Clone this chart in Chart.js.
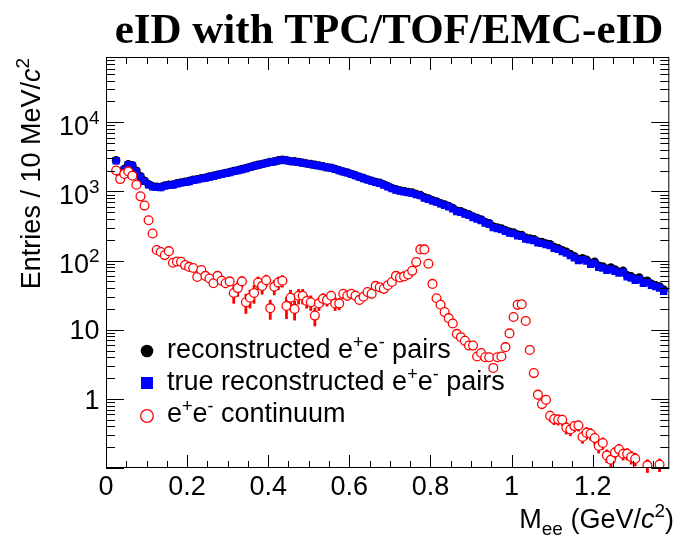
<!DOCTYPE html>
<html>
<head>
<meta charset="utf-8">
<script src="https://cdn.jsdelivr.net/npm/chart.js@4.4.1/dist/chart.umd.min.js"></script>
<style>
  body { margin: 0; background: #fff; }
  canvas { display: block; }
</style>
</head>
<body>
<canvas id="c" width="675" height="540"></canvas>
<script>
// bin centres in GeV/c^2 (10 MeV bins)
const massBins = [
  0.025, 0.035, 0.045, 0.055, 0.065, 0.075, 0.085, 0.095, 0.105, 0.115,
  0.125, 0.135, 0.145, 0.155, 0.165, 0.175, 0.185, 0.195, 0.205, 0.215,
  0.225, 0.235, 0.245, 0.255, 0.265, 0.275, 0.285, 0.295, 0.305, 0.315,
  0.325, 0.335, 0.345, 0.355, 0.365, 0.375, 0.385, 0.395, 0.405, 0.415,
  0.425, 0.435, 0.445, 0.455, 0.465, 0.475, 0.485, 0.495, 0.505, 0.515,
  0.525, 0.535, 0.545, 0.555, 0.565, 0.575, 0.585, 0.595, 0.605, 0.615,
  0.625, 0.635, 0.645, 0.655, 0.665, 0.675, 0.685, 0.695, 0.705, 0.715,
  0.725, 0.735, 0.745, 0.755, 0.765, 0.775, 0.785, 0.795, 0.805, 0.815,
  0.825, 0.835, 0.845, 0.855, 0.865, 0.875, 0.885, 0.895, 0.905, 0.915,
  0.925, 0.935, 0.945, 0.955, 0.965, 0.975, 0.985, 0.995, 1.005, 1.015,
  1.025, 1.035, 1.045, 1.055, 1.065, 1.075, 1.085, 1.095, 1.105, 1.115,
  1.125, 1.135, 1.145, 1.155, 1.165, 1.175, 1.185, 1.195, 1.205, 1.215,
  1.225, 1.235, 1.245, 1.255, 1.265, 1.275, 1.285, 1.295, 1.305, 1.315,
  1.325, 1.335, 1.345, 1.355, 1.365, 1.375
];

// reconstructed e+e- pairs (black, mostly hidden under the blue squares)
const recoPairs = [
  2830, 1790, 2100, 2470, 2390, 1990, 1650, 1430, 1270, 1190,
  1170, 1160, 1220, 1250, 1260, 1310, 1350, 1380, 1410, 1470,
  1500, 1550, 1580, 1640, 1680, 1740, 1790, 1850, 1900, 1970,
  2030, 2100, 2170, 2260, 2340, 2420, 2500, 2580, 2660, 2720,
  2810, 2880, 2820, 2740, 2720, 2660, 2600, 2540, 2480, 2420,
  2370, 2310, 2240, 2200, 2110, 2020, 1940, 1880, 1790, 1710,
  1630, 1560, 1490, 1430, 1370, 1330, 1260, 1190, 1120, 1070,
  1030, 1010, 980, 960, 920, 890, 820, 790, 745, 715,
  675, 645, 615, 575, 525, 515, 485, 462, 432, 412,
  392, 362, 346, 311, 300, 290, 275, 260, 254, 237,
  234, 213, 208, 203, 188, 185, 177, 172, 157, 151,
  141, 134, 124, 115, 105, 108, 103, 92, 96, 84,
  82, 76, 79, 74, 69, 71, 61, 59, 55, 57,
  50, 51, 46, 44, 42, 38
];

// true reconstructed e+e- pairs (blue squares)
const truePairs = [
  2780, 1750, 2060, 2430, 2350, 1950, 1620, 1400, 1250, 1170,
  1150, 1140, 1200, 1230, 1240, 1290, 1330, 1360, 1390, 1450,
  1480, 1530, 1560, 1620, 1660, 1720, 1770, 1830, 1880, 1950,
  2010, 2080, 2150, 2240, 2320, 2400, 2480, 2560, 2640, 2700,
  2790, 2860, 2800, 2720, 2700, 2640, 2580, 2520, 2460, 2400,
  2350, 2290, 2220, 2180, 2090, 2000, 1920, 1860, 1770, 1690,
  1610, 1540, 1470, 1410, 1350, 1310, 1240, 1170, 1100, 1050,
  1010, 990, 960, 940, 900, 870, 800, 770, 730, 700,
  660, 630, 600, 560, 510, 500, 470, 450, 420, 400,
  380, 350, 335, 300, 290, 280, 265, 250, 245, 228,
  225, 205, 200, 195, 180, 178, 170, 165, 150, 145,
  135, 128, 118, 110, 100, 103, 98, 88, 92, 80,
  78, 72, 75, 70, 66, 68, 58, 56, 52, 54,
  47, 48, 44, 42, 40, 36
];

// e+e- continuum (red open circles); null = empty bin
const continuum = [
  2010, 1510, 1790, 1950, 1690, 1250, 850, 624, 383, 246,
  142, 133, 120, 137, 93, 97, 96, 86, 81, 78,
  58, 73, 60, 55, 47, 60, 51, 47, 50, 34,
  40, 50, 25, 29, 34, 48, 43, 52, 20.5, 42,
  48, 51, 22, 29, 20, 31, 31, 26, 25, 16,
  24, 28, 27, 31, 24, 24, 33, 31, 33, 31,
  27, 30, 35, 33, 43, 41, 39, 44, 49, 60,
  57, 59, 63, 71, 95, 145, 145, 90, 46, 28.5,
  23, 18, 14.7, 12.3, 8.7, 7.8, 6.9, 5.9, 5.9, 4.1,
  4.6, 4.0, 4.0, 2.8, 4.0, 4.1, 5.6, 8.85, 15.3, 22.9,
  23.4, 13.4, 5.1, 2.36, 1.15, 0.84, 0.97, 0.57, 0.51, 0.503,
  0.498, 0.382, 0.361, 0.404, 0.412, 0.281, 0.324, 0.313, 0.272, 0.208,
  0.23, 0.152, 0.132, 0.167, 0.186, 0.161, 0.161, 0.144, 0.136, null,
  null, 0.109, null, null, 0.112, null
];

// relative error of each continuum bin
const continuumRelErr = [
  0.02, 0.02, 0.02, 0.02, 0.02, 0.02, 0.03, 0.03, 0.04, 0.05,
  0.06, 0.06, 0.07, 0.06, 0.08, 0.08, 0.08, 0.09, 0.09, 0.10,
  0.12, 0.10, 0.12, 0.12, 0.14, 0.12, 0.14, 0.15, 0.14, 0.30,
  0.25, 0.18, 0.32, 0.30, 0.30, 0.22, 0.25, 0.20, 0.32, 0.25,
  0.22, 0.20, 0.35, 0.30, 0.32, 0.25, 0.25, 0.22, 0.25, 0.30,
  0.22, 0.20, 0.20, 0.18, 0.22, 0.20, 0.16, 0.15, 0.15, 0.15,
  0.15, 0.14, 0.12, 0.12, 0.10, 0.10, 0.10, 0.10, 0.08, 0.08,
  0.08, 0.08, 0.07, 0.06, 0.05, 0.04, 0.04, 0.05, 0.06, 0.07,
  0.07, 0.07, 0.08, 0.08, 0.08, 0.08, 0.08, 0.08, 0.08, 0.09,
  0.08, 0.09, 0.09, 0.10, 0.09, 0.09, 0.08, 0.07, 0.06, 0.05,
  0.05, 0.06, 0.08, 0.12, 0.15, 0.15, 0.15, 0.18, 0.18, 0.18,
  0.18, 0.20, 0.20, 0.18, 0.18, 0.20, 0.20, 0.20, 0.20, 0.22,
  0.20, 0.22, 0.22, 0.20, 0.20, 0.20, 0.20, 0.22, 0.22, 0,
  0, 0.22, 0, 0, 0.22, 0
];

const xTicks = [0, 0.2, 0.4, 0.6, 0.8, 1, 1.2];
const xTickLabels = ['0', '0.2', '0.4', '0.6', '0.8', '1', '1.2'];
const yDecades = [1, 10, 100, 1000, 10000];
const yTickBase = ['1', '10', '10', '10', '10'];
const yTickExp = ['', '', '2', '3', '4'];

const SANS = '"Liberation Sans", Arial, Helvetica, sans-serif';

function segFont(sg) {
  return (sg.it ? 'italic ' : '') + sg.s + 'px ' + SANS;
}

// draw a run of text pieces (for sub/superscripts)
function drawRich(ctx, segs, x, y, align) {
  let w = 0;
  segs.forEach(sg => { ctx.font = segFont(sg); sg.w = ctx.measureText(sg.t).width; w += sg.w; });
  let cx = align === 'right' ? x - w : (align === 'center' ? x - w / 2 : x);
  ctx.textAlign = 'left';
  ctx.textBaseline = 'alphabetic';
  segs.forEach(sg => {
    ctx.font = segFont(sg);
    ctx.fillText(sg.t, cx, y + (sg.dy || 0));
    cx += sg.w;
  });
}

const rootFrame = {
  id: 'rootFrame',
  beforeDatasetsDraw(chart) {
    const ctx = chart.ctx, xs = chart.scales.x, ys = chart.scales.y;
    ctx.save();
    ctx.strokeStyle = '#ff0000';
    ctx.lineWidth = 2.8;
    continuum.forEach((v, i) => {
      const e = continuumRelErr[i];
      if (v == null || !e) return;
      const px = xs.getPixelForValue(massBins[i]);
      const yHi = ys.getPixelForValue(v * (1 + e));
      const yLo = ys.getPixelForValue(v * (1 - e));
      ctx.beginPath();
      ctx.moveTo(px, yHi);
      ctx.lineTo(px, yLo);
      ctx.stroke();
    });
    ctx.restore();
  },
  afterDraw(chart) {
    const ctx = chart.ctx, xs = chart.scales.x, ys = chart.scales.y;
    const a = chart.chartArea;
    ctx.save();
    ctx.strokeStyle = '#000';
    ctx.fillStyle = '#000';
    ctx.lineWidth = 1;

    // frame
    ctx.strokeRect(a.left + 0.5, a.top + 0.5, a.right - a.left - 1, a.bottom - a.top - 1);

    // x ticks (inside, bottom and top)
    ctx.beginPath();
    for (let k = 0; k <= 27; k++) {
      const v = k * 0.05;
      const px = Math.round(xs.getPixelForValue(v)) + 0.5;
      const len = (k % 4 === 0) ? 13 : 7;
      ctx.moveTo(px, a.bottom);
      ctx.lineTo(px, a.bottom - len);
      ctx.moveTo(px, a.top);
      ctx.lineTo(px, a.top + len);
    }
    // y ticks (log, inside, left and right)
    for (let dec = 0.1; dec < 1e5; dec *= 10) {
      for (let m = 1; m <= 9; m++) {
        const v = dec * m;
        if (v < ys.min * 0.999 || v > ys.max) continue;
        const py = Math.round(ys.getPixelForValue(v)) + 0.5;
        const len = m === 1 ? 18 : 9;
        ctx.moveTo(a.left, py);
        ctx.lineTo(a.left + len, py);
        ctx.moveTo(a.right, py);
        ctx.lineTo(a.right - len, py);
      }
    }
    ctx.stroke();

    // x tick labels
    ctx.font = '27px ' + SANS;
    ctx.textAlign = 'center';
    ctx.textBaseline = 'alphabetic';
    xTicks.forEach((v, i) => {
      ctx.fillText(xTickLabels[i], xs.getPixelForValue(v), 494.5);
    });

    // y tick labels
    yDecades.forEach((v, i) => {
      const py = ys.getPixelForValue(v);
      if (yTickExp[i]) {
        drawRich(ctx, [{ t: yTickBase[i], s: 27 }, { t: yTickExp[i], s: 19, dy: -11 }], 99.5, py + 12.5, 'right');
      } else {
        drawRich(ctx, [{ t: yTickBase[i], s: 27 }], 99.5, py + 9.7, 'right');
      }
    });

    // axis titles
    drawRich(ctx, [
      { t: 'M', s: 27 }, { t: 'ee', s: 19, dy: 7 }, { t: ' (GeV/', s: 27 },
      { t: 'c', s: 27, it: true }, { t: '2', s: 19, dy: -11 }, { t: ')', s: 27 }
    ], 674, 528, 'right');

    ctx.save();
    ctx.translate(40, 58);
    ctx.rotate(-Math.PI / 2);
    drawRich(ctx, [
      { t: 'Entries / 10 MeV/', s: 27 }, { t: 'c', s: 27, it: true }, { t: '2', s: 19, dy: -11 }
    ], 0, 0, 'right');
    ctx.restore();

    // title
    ctx.font = 'bold 43px "Liberation Serif", "Times New Roman", serif';
    ctx.textAlign = 'center';
    ctx.fillText('eID with TPC/TOF/EMC-eID', 389, 43);

    // legend
    const lx = 147, tx = 167;
    const rows = [358, 390, 422];
    ctx.fillStyle = '#000';
    ctx.beginPath();
    ctx.arc(lx, rows[0] - 7, 6.3, 0, Math.PI * 2);
    ctx.fill();
    ctx.fillStyle = '#0000ff';
    ctx.fillRect(lx - 6, rows[1] - 13, 12, 12);
    ctx.strokeStyle = '#ff0000';
    ctx.lineWidth = 1.3;
    ctx.beginPath();
    ctx.arc(lx, rows[2] - 6, 6.3, 0, Math.PI * 2);
    ctx.stroke();

    ctx.fillStyle = '#000';
    const ee = () => [{ t: 'e', s: 27 }, { t: '+', s: 18, dy: -10 }, { t: 'e', s: 27 }, { t: '-', s: 18, dy: -10 }];
    drawRich(ctx, [{ t: 'reconstructed ', s: 27 }].concat(ee(), [{ t: ' pairs', s: 27 }]), tx, rows[0], 'left');
    drawRich(ctx, [{ t: 'true reconstructed ', s: 27 }].concat(ee(), [{ t: ' pairs', s: 27 }]), tx, rows[1], 'left');
    drawRich(ctx, ee().concat([{ t: ' continuum', s: 27 }]), tx, rows[2], 'left');

    ctx.restore();
  }
};

const toXY = (vals) => vals.map((v, i) => ({ x: massBins[i], y: v }));

new Chart(document.getElementById('c'), {
  type: 'scatter',
  data: {
    datasets: [
      {
        label: 'e+e- continuum',
        data: toXY(continuum),
        pointStyle: 'circle',
        pointRadius: 4.4,
        borderWidth: 1.3,
        borderColor: '#ff0000',
        backgroundColor: '#ffffff',
        order: 1
      },
      {
        label: 'true reconstructed e+e- pairs',
        data: toXY(truePairs),
        pointStyle: 'rect',
        pointRadius: 5.2,
        borderWidth: 0,
        borderColor: '#0000ff',
        backgroundColor: '#0000ff',
        order: 2
      },
      {
        label: 'reconstructed e+e- pairs',
        data: toXY(recoPairs),
        pointStyle: 'circle',
        pointRadius: 4.3,
        borderWidth: 0,
        backgroundColor: '#000000',
        order: 3
      }
    ]
  },
  options: {
    responsive: false,
    animation: false,
    layout: { padding: { left: 106, right: 2, top: 57, bottom: 72 } },
    plugins: { legend: { display: false }, tooltip: { enabled: false } },
    scales: {
      x: { type: 'linear', min: 0, max: 1.389, bounds: 'data', display: false },
      y: { type: 'logarithmic', min: 0.1, max: 88000, bounds: 'data', display: false }
    }
  },
  plugins: [rootFrame]
});
</script>
</body>
</html>
